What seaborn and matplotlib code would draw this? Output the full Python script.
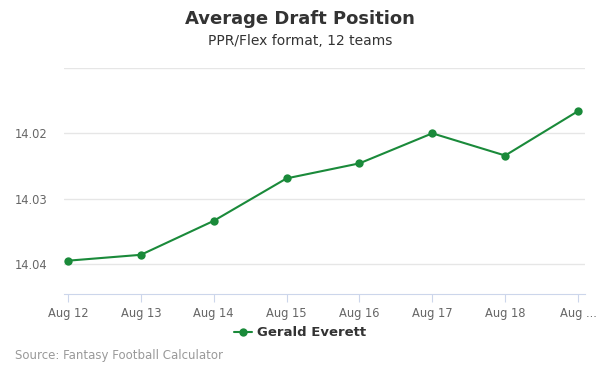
import pandas as pd
import matplotlib.pyplot as plt
import seaborn as sns

# data
dates = ["Aug 12", "Aug 13", "Aug 14", "Aug 15", "Aug 16", "Aug 17", "Aug 18", "Aug 19"]
tick_labels = ["Aug 12", "Aug 13", "Aug 14", "Aug 15", "Aug 16", "Aug 17", "Aug 18", "Aug ..."]
adp = [14.0395, 14.0386, 14.0334, 14.0269, 14.0246, 14.0200, 14.0234, 14.0166]
player = "Gerald Everett"

df = pd.DataFrame({"pos": range(len(dates)), "adp": adp, "player": player})

sns.set_style("white")
plt.rcParams["font.family"] = ["DejaVu Sans"]

fig = plt.figure(figsize=(6, 3.75), dpi=100)
ax = fig.add_axes([64 / 600, 1 - 294 / 375, 521 / 600, 226 / 375])

green = "#1a8a3a"
sns.lineplot(data=df, x="pos", y="adp", hue="player", palette=[green],
             marker="o", markersize=6, markeredgewidth=0, linewidth=1.5, ax=ax)

ax.set_xlim(-0.055, 7.096)
ax.set_ylim(14.0446, 14.01)
ax.set_yticks([14.01, 14.02, 14.03, 14.04])
ax.set_yticklabels(["", "14.02", "14.03", "14.04"])
ax.set_xticks(range(len(dates)))
ax.set_xticklabels(tick_labels)
ax.set_xlabel("")
ax.set_ylabel("")

ax.grid(axis="y", color="#e6e6e6", linewidth=1)
ax.set_axisbelow(True)
for s in ["top", "right", "left"]:
    ax.spines[s].set_visible(False)
ax.spines["bottom"].set_color("#ccd6eb")
ax.tick_params(axis="x", colors="#ccd6eb", length=6, direction="out", bottom=True,
               labelcolor="#666666", labelsize=8.3, pad=3)
ax.tick_params(axis="y", length=0, labelcolor="#666666", labelsize=8.3, pad=12)

fig.text(0.5, 1 - 19 / 375, "Average Draft Position", ha="center", va="center",
         fontsize=13, fontweight="bold", color="#333333")
fig.text(0.5, 1 - 41 / 375, "PPR/Flex format, 12 teams", ha="center", va="center",
         fontsize=10, color="#333333")

ax.legend(loc="center", bbox_to_anchor=(0.5, 1 - 333 / 375), bbox_transform=fig.transFigure,
          frameon=False, prop={"weight": "bold", "size": 9.5}, handlelength=1.4,
          handletextpad=0.4, labelcolor="#333333")

fig.text(15 / 600, 1 - 356 / 375, "Source: Fantasy Football Calculator", ha="left",
         va="center", fontsize=8.5, color="#999999")

fig.savefig("out.png", dpi=100)
